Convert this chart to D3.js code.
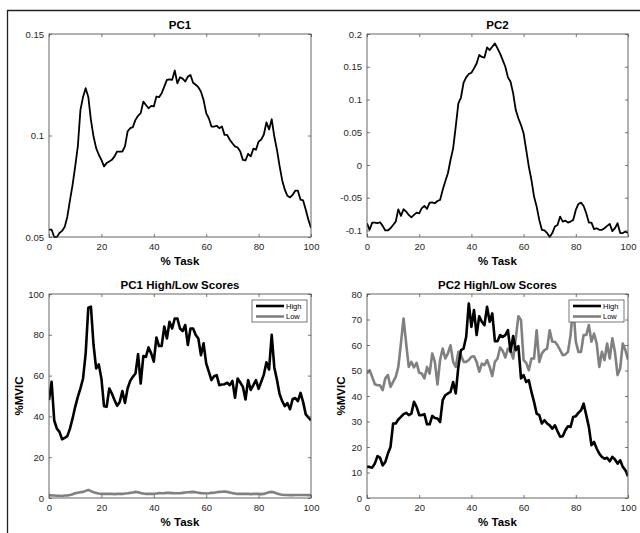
<!DOCTYPE html>
<html><head><meta charset="utf-8">
<script src="https://d3js.org/d3.v7.min.js"></script>
<style>body{margin:0;background:#fff}svg{display:block}text{font-family:"Liberation Sans",Arial,sans-serif}</style>
</head><body>
<svg id="c" width="640" height="533"></svg>
<script>
const pctTask = d3.range(0, 101);
const xTicks = [0, 20, 40, 60, 80, 100];
const titles = ["PC1", "PC2", "PC1 High/Low Scores", "PC2 High/Low Scores"];
const xLabel = "% Task";
const yLabel = "%MVIC";
const legendLabels = ["High", "Low"];

const pc1 = [0.0536,0.0536,0.050,0.050,0.052,0.053,0.055,0.060,0.068,0.0757,0.0848,0.0946,0.1126,0.119,0.1233,0.119,0.1077,0.0995,0.0938,0.0905,0.088,0.0848,0.0864,0.0872,0.088,0.0897,0.0921,0.0921,0.0921,0.0946,0.102,0.1036,0.1041,0.1077,0.1097,0.111,0.1167,0.115,0.1134,0.1146,0.1143,0.1192,0.1189,0.1208,0.1241,0.1274,0.1277,0.1274,0.132,0.1257,0.1287,0.128,0.1266,0.129,0.1298,0.126,0.125,0.1238,0.1216,0.1175,0.111,0.1085,0.1044,0.1044,0.1048,0.1036,0.1044,0.1003,0.1003,0.0979,0.0962,0.0946,0.0941,0.0921,0.088,0.0877,0.091,0.0897,0.0935,0.093,0.097,0.098,0.1005,0.1065,0.103,0.108,0.0995,0.093,0.085,0.078,0.0733,0.0703,0.0695,0.0708,0.0728,0.0728,0.0684,0.068,0.0634,0.0585,0.0544];
const pc1Ticks = [0.05, 0.1, 0.15];

const pc2 = [-0.089,-0.099,-0.088,-0.088,-0.089,-0.0875,-0.093,-0.100,-0.100,-0.0966,-0.0916,-0.0865,-0.0677,-0.0778,-0.0677,-0.0712,-0.0763,-0.080,-0.0763,-0.0727,-0.0738,-0.066,-0.0626,-0.067,-0.0575,-0.057,-0.0585,-0.055,-0.0534,-0.038,-0.025,-0.0127,0.0076,0.0254,0.0585,0.094,0.103,0.1256,0.1338,0.1389,0.1409,0.1475,0.155,0.168,0.165,0.164,0.1796,0.1755,0.1806,0.1857,0.178,0.170,0.160,0.150,0.1338,0.127,0.1094,0.0839,0.0712,0.061,0.0483,0.0229,-0.0025,-0.0229,-0.0483,-0.0636,-0.0839,-0.099,-0.100,-0.104,-0.110,-0.104,-0.094,-0.0916,-0.0788,-0.0865,-0.085,-0.088,-0.0865,-0.0839,-0.0687,-0.0595,-0.0575,-0.0626,-0.0738,-0.088,-0.088,-0.098,-0.0966,-0.099,-0.099,-0.0966,-0.093,-0.090,-0.101,-0.0966,-0.089,-0.104,-0.104,-0.1017,-0.104];
const pc2Ticks = [-0.1, -0.05, 0, 0.05, 0.1, 0.15, 0.2];
const pc2TickLabels = ["-0.1", "-0.05", "0", "0.05", "0.1", "0.15", "0.2"];

const pc1High = [48,57,38,34,32.4,28.8,29.5,30.3,34,39,44.7,49.6,53.7,58.6,70.9,93.3,93.8,75,63.5,65.5,58.6,45,44.7,53.7,51.2,48,45.2,47.1,52.4,46.6,53.7,57.4,59.4,61,70.5,56.1,69.6,69.2,73.8,70.9,66.8,78.7,74.5,74.5,84,78.2,86.4,83.1,88,88,83.1,81.8,84.8,75,83.1,83.1,79.9,78.2,70,75.8,66,61.9,57.8,59.7,60.2,55.3,55.6,55.8,56.5,55.3,57.4,49.1,58.6,56.6,54.5,48.3,57.8,53,55.3,57.8,53.5,57,60.5,66.5,63,80,64,58,51,47.5,45,46.5,43.5,48.5,49,47.5,51.5,47,41,39.5,38];
const pc1Low = [1.5,1.3,1.2,1.1,1.1,1.0,1.2,1.3,1.5,1.8,2.3,2.6,2.8,3.0,3.5,4.0,3.4,2.8,2.5,2.2,2.0,2.0,2.1,2.0,2.0,1.9,2.0,2.1,2.0,2.2,2.3,2.5,2.7,3.0,2.8,2.4,2.2,2.0,2.0,2.1,2.0,2.2,2.4,2.3,2.4,2.6,2.5,2.4,2.3,2.3,2.3,2.5,2.7,2.8,2.9,3.0,2.8,2.6,2.4,2.3,2.2,2.3,2.5,2.6,2.8,3.0,3.1,3.2,3.0,2.7,2.4,2.2,2.0,2.0,2.0,2.0,2.0,1.9,2.0,2.0,2.0,1.9,2.0,2.4,2.8,3.0,2.7,2.2,1.8,1.6,1.5,1.5,1.4,1.4,1.5,1.5,1.5,1.5,1.5,1.4,1.4];
const pc2High = [12.2,12.2,11.9,13.5,16.4,15.8,12.8,14.1,17.4,20,29.2,29.2,30.8,31.8,32.9,33.4,32.5,33.1,37.7,35.7,32.5,32.5,32.9,28.9,28.9,32.2,31.4,31.2,29.8,38.4,40.3,41,41.6,45.5,41,51.4,58,58.6,63.2,76.3,67.1,73.7,63.9,71.3,69.1,67.8,75,69.1,72.4,61.5,61.5,63.9,63.2,63.9,65.8,57.3,63.5,58,59.6,46.9,48.2,45.5,46.2,41.6,37.7,33.1,32.5,29.2,30.5,29.2,28.5,27.2,28.5,26.2,24,24.2,26.6,28.1,27.9,31.8,32.1,33.4,34.4,37,32.5,27.9,20.7,22,19.4,17.4,16.1,15.4,15.8,14.4,16.1,15.1,13.5,14.8,12.2,10.9,8.5];
const pc2Low = [48.8,50.1,47.5,44.6,44.2,44.2,42.3,46.9,48.2,43.6,45.5,47.5,51.4,60.6,70.4,60.6,51.4,53.4,51.2,53,49.1,48.8,46.9,51.4,48.8,56.7,53.4,44.5,54.1,58.6,54.7,56.7,59.9,53.4,51.4,57.3,56,53.4,53.4,54.1,55.4,55.6,53.4,49.5,52.7,52.1,54.1,51.4,47.8,53.4,54.7,59,57.7,55.1,58.6,58,54.7,62.6,71.3,69.8,54.1,53,50.1,54.7,54.7,65.8,53.4,56.7,58,58.6,65.8,61.3,61.3,59.9,58,56,56.3,57.3,63.9,75.7,61.3,57.3,57.3,63.9,63.9,67.8,61.3,64.5,60.6,51.4,57.3,54.1,60.6,54.7,62.6,57.3,48.2,50.8,60.6,58,54.3];
const pc1HLTicks = [0, 20, 40, 60, 80, 100];
const pc2HLTicks = [0, 10, 20, 30, 40, 50, 60, 70, 80];

const svg = d3.select("#c");
const axisColor = "#555";
const textColor = "#262626";

// outer frame (left + top)
svg.append("line").attr("x1", 7.5).attr("x2", 7.5).attr("y1", 10).attr("y2", 533).attr("stroke", "#222").attr("stroke-width", 1.3);
svg.append("line").attr("x1", 7).attr("x2", 640).attr("y1", 10.5).attr("y2", 10.5).attr("stroke", "#222").attr("stroke-width", 1.3);

const panels = [
  {box: [49, 311, 34, 237], y: [0.05, 0.15], yt: pc1Ticks, ytl: ["0.05", "0.1", "0.15"], series: [{v: pc1, c: "#000", w: 1.8}], ylab: 0},
  {box: [367, 628, 34, 237], y: [-0.11, 0.2], yt: pc2Ticks, ytl: pc2TickLabels, series: [{v: pc2, c: "#000", w: 1.8}], ylab: 0},
  {box: [49, 311, 294, 498], y: [0, 100], yt: pc1HLTicks, ytl: pc1HLTicks.map(String), series: [{v: pc1Low, c: "#808080", w: 2.6}, {v: pc1High, c: "#000", w: 2.6}], ylab: 26, legend: true},
  {box: [367, 628, 294, 498], y: [0, 80], yt: pc2HLTicks, ytl: pc2HLTicks.map(String), series: [{v: pc2Low, c: "#808080", w: 2.6}, {v: pc2High, c: "#000", w: 2.6}], ylab: 22, legend: true}
];

panels.forEach((p, i) => {
  const [l, r, t, b] = p.box;
  const x = d3.scaleLinear().domain([0, 100]).range([l, r]);
  const y = d3.scaleLinear().domain(p.y).range([b, t]);
  const g = svg.append("g");
  const clipId = "clip" + i;
  svg.append("clipPath").attr("id", clipId).append("rect").attr("x", l).attr("y", t - 1).attr("width", r - l).attr("height", b - t + 2);

  const line = d3.line().x((d, k) => x(pctTask[k])).y(d => y(d));
  p.series.forEach(s => {
    g.append("path").datum(s.v).attr("d", line).attr("fill", "none")
      .attr("stroke", s.c).attr("stroke-width", s.w).attr("stroke-linejoin", "round")
      .attr("clip-path", `url(#${clipId})`);
  });

  const tl = 3;
  const ax = svg.append("g").attr("transform", `translate(0,${b})`)
    .call(d3.axisBottom(x).tickValues(xTicks).tickSizeInner(-tl).tickSizeOuter(0).tickPadding(6));
  const axT = svg.append("g").attr("transform", `translate(0,${t})`)
    .call(d3.axisTop(x).tickValues(xTicks).tickSizeInner(-tl).tickSizeOuter(0).tickFormat(""));
  const ay = svg.append("g").attr("transform", `translate(${l},0)`)
    .call(d3.axisLeft(y).tickValues(p.yt).tickFormat((d, k) => p.ytl[k]).tickSizeInner(-tl).tickSizeOuter(0).tickPadding(5));
  const ayR = svg.append("g").attr("transform", `translate(${r},0)`)
    .call(d3.axisRight(y).tickValues(p.yt).tickSizeInner(-tl).tickSizeOuter(0).tickFormat(""));
  [ax, axT, ay, ayR].forEach(a => {
    a.select(".domain").remove();
    a.selectAll("line").attr("stroke", axisColor).attr("stroke-width", 0.8);
    a.selectAll("text").attr("fill", textColor).style("font-size", "9.5px").style("font-family", "'Liberation Sans',Arial,sans-serif");
  });
  svg.append("rect").attr("x", l).attr("y", t).attr("width", r - l).attr("height", b - t)
    .attr("fill", "none").attr("stroke", axisColor).attr("stroke-width", 0.9);

  svg.append("text").attr("x", (l + r) / 2).attr("y", t - 5).attr("text-anchor", "middle")
    .style("font-size", "11.5px").style("font-weight", "bold").attr("fill", "#000").text(titles[i]);
  svg.append("text").attr("x", (l + r) / 2).attr("y", b + 28).attr("text-anchor", "middle")
    .style("font-size", "11.5px").style("font-weight", "bold").attr("fill", "#000").text(xLabel);
  if (p.ylab) {
    svg.append("text").attr("transform", `translate(${l - p.ylab},${(t + b) / 2}) rotate(-90)`)
      .attr("text-anchor", "middle").style("font-size", "11.5px").style("font-weight", "bold")
      .attr("fill", "#000").text(yLabel);
  }
  if (p.legend) {
    const bw = 55, bh = 22, bx = r - 4 - bw, by = t + 6;
    const lg = svg.append("g");
    lg.append("rect").attr("x", bx).attr("y", by).attr("width", bw).attr("height", bh)
      .attr("fill", "#fff").attr("stroke", axisColor).attr("stroke-width", 0.8);
    const cols = ["#000", "#808080"];
    legendLabels.forEach((lab, k) => {
      const yy = by + 6 + k * 10.5;
      lg.append("line").attr("x1", bx + 4).attr("x2", bx + 32).attr("y1", yy).attr("y2", yy)
        .attr("stroke", cols[k]).attr("stroke-width", 2.6);
      lg.append("text").attr("x", bx + 34).attr("y", yy).attr("dy", "0.35em")
        .style("font-size", "7.5px").attr("fill", "#000").text(lab);
    });
  }
});
</script>
</body></html>
